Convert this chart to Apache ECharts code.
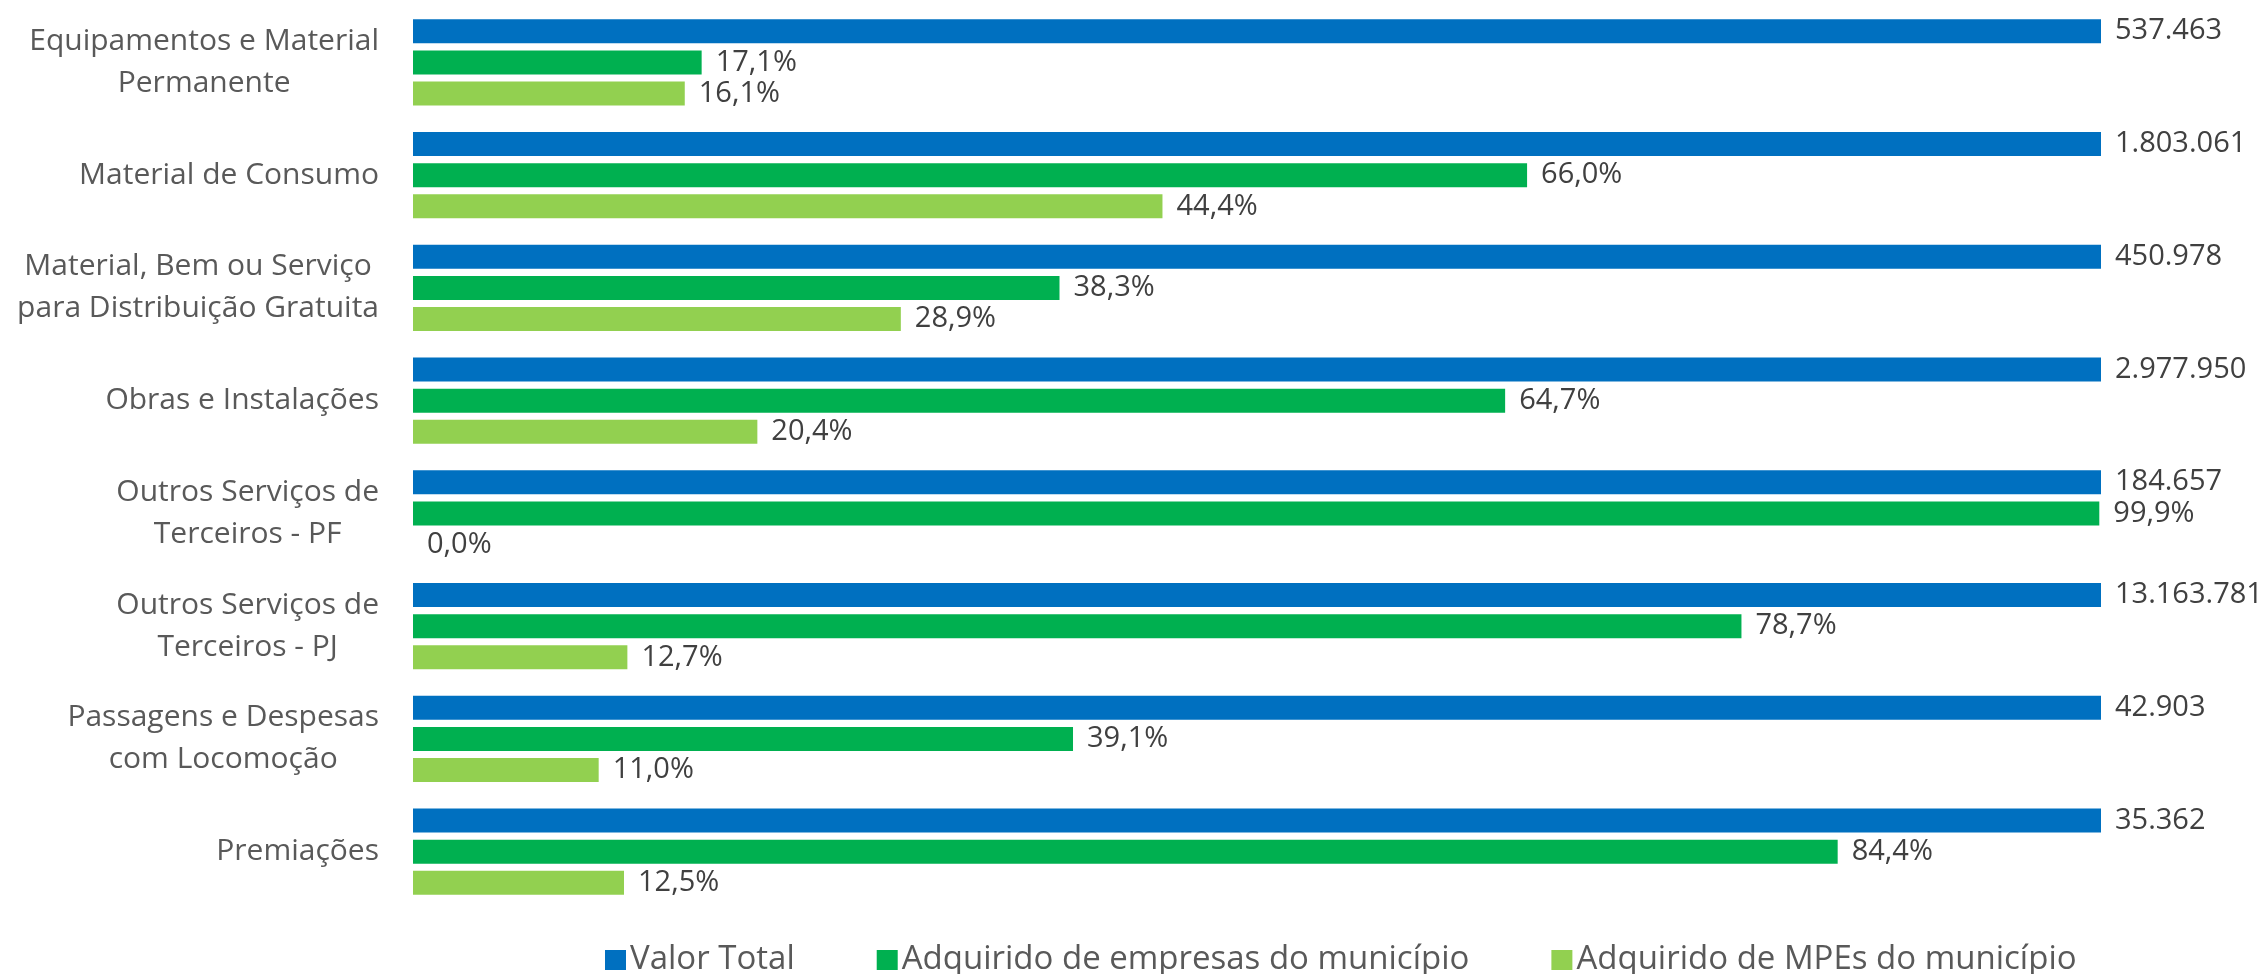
<!DOCTYPE html>
<html>
<head>
<meta charset="utf-8">
<script src="https://cdn.jsdelivr.net/npm/echarts@6/dist/echarts.min.js"></script>
<style>
  html, body { margin: 0; padding: 0; background: #fff; }
  #chart { width: 2265px; height: 974px; }
</style>
</head>
<body>
<div id="chart"></div>
<script>
// categorias (de cima para baixo)
const categories = [
  'Equipamentos e Material\nPermanente',
  'Material de Consumo',
  'Material, Bem ou Serviço\npara Distribuição Gratuita',
  'Obras e Instalações',
  'Outros Serviços de\nTerceiros - PF',
  'Outros Serviços de\nTerceiros - PJ',
  'Passagens e Despesas\ncom Locomoção',
  'Premiações'
]
const seriesNames = ['Valor Total', 'Adquirido de empresas do município', 'Adquirido de MPEs do município']
// valor total (R$) mostrado no rótulo, a barra azul representa 100%
const valorTotal = [537463, 1803061, 450978, 2977950, 184657, 13163781, 42903, 35362]
const valorTotalShare = [100, 100, 100, 100, 100, 100, 100, 100]
const empresasMunicipio = [17.1, 66.0, 38.3, 64.7, 99.9, 78.7, 39.1, 84.4]
const mpesMunicipio = [16.1, 44.4, 28.9, 20.4, 0.0, 12.7, 11.0, 12.5]
const colors = ['#0070C0', '#00B050', '#92D050']

const font = "'Open Sans', sans-serif"

function fmtInt (v) {
  return String(v).replace(/\B(?=(\d{3})+(?!\d))/g, '.')
}
function fmtPct (v) {
  return v.toFixed(1).replace('.', ',') + '%'
}

const chart = echarts.init(document.getElementById('chart'))
const labelStyle = {
  show: true,
  position: 'right',
  distance: 14,
  color: '#404040',
  fontSize: 29,
  fontFamily: font
}

const optionData = {
  animation: false,
  color: colors,
  grid: { left: 413, right: 164, top: 6, bottom: 66 },
  legend: {
    left: 600,
    top: 937,
    itemWidth: 21,
    itemHeight: 20,
    itemGap: 82,
    icon: 'rect',
    textStyle: { color: '#595959', fontSize: 33, fontFamily: font, lineHeight: 36, padding: [0, 0, 0, -1] },
    data: seriesNames
  },
  xAxis: {
    type: 'value',
    min: 0,
    max: 100,
    show: false
  },
  yAxis: {
    type: 'category',
    inverse: true,
    data: categories,
    axisLine: { show: false },
    axisTick: { show: false },
    axisLabel: {
      margin: 34,
      color: '#595959',
      fontSize: 30,
      fontFamily: font,
      lineHeight: 42,
      formatter: function (v) {
        return v.split('\n').map(function (s) { return '{c|' + s + '}' }).join('\n')
      },
      rich: {
        c: { align: 'center', color: '#595959', fontSize: 30, fontFamily: font, lineHeight: 42 }
      }
    }
  },
  series: [
    {
      name: seriesNames[0],
      type: 'bar',
      data: valorTotalShare,
      barWidth: 24,
      barGap: '30%',
      label: Object.assign({}, labelStyle, {
        formatter: function (p) { return fmtInt(valorTotal[p.dataIndex]) }
      })
    },
    {
      name: seriesNames[1],
      type: 'bar',
      data: empresasMunicipio,
      barWidth: 24,
      barGap: '30%',
      label: Object.assign({}, labelStyle, {
        formatter: function (p) { return fmtPct(p.value) }
      })
    },
    {
      name: seriesNames[2],
      type: 'bar',
      data: mpesMunicipio,
      barWidth: 24,
      barGap: '30%',
      label: Object.assign({}, labelStyle, {
        formatter: function (p) { return fmtPct(p.value) }
      })
    }
  ]
}
chart.setOption(optionData)
</script>
</body>
</html>
